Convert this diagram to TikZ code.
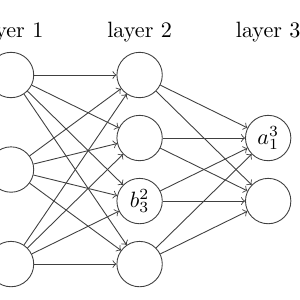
\documentclass[tikz,border=0pt]{standalone}
\usepackage{amsmath, amssymb}
\usepackage{tikz}
\tikzset{neuron/.style={circle, draw=black!75, thin, minimum size=0.72cm, inner sep=0pt}}

\begin{document}
\begin{tikzpicture}[>=to]
    \useasboundingbox (-0.175,-3.57) rectangle (4.585,1.19);
    % layer 1
    \node[neuron] (in1) at (0,0) {};
    \node[neuron] (in2) at (0,-1.5) {};
    \node[neuron] (in3) at (0,-3) {};
    % layer 2
    \node[neuron] (hid1) at (2.04,0) {};
    \node[neuron] (hid2) at (2.04,-1) {};
    \node[neuron] (hid3) at (2.04,-2) {$b^2_3$};
    \node[neuron] (hid4) at (2.04,-3) {};
    % layer 3
    \node[neuron] (out1) at (4.08,-1) {$a^3_1$};
    \node[neuron] (out2) at (4.08,-2) {};
    % titles
    \node (title1) at (0,0.68) {layer 1};
    \node (title2) at (2.04,0.68) {layer 2};
    \node (title3) at (4.08,0.68) {layer 3};
    % connections
    \foreach \i in {1,2,3}
        \foreach \j in {1,2,3,4}
            \draw[->, black!75, thin] (in\i) -- (hid\j);
    \foreach \j in {1,2,3,4}
        \foreach \k in {1,2}
            \draw[->, black!75, thin] (hid\j) -- (out\k);
\end{tikzpicture}
\end{document}
